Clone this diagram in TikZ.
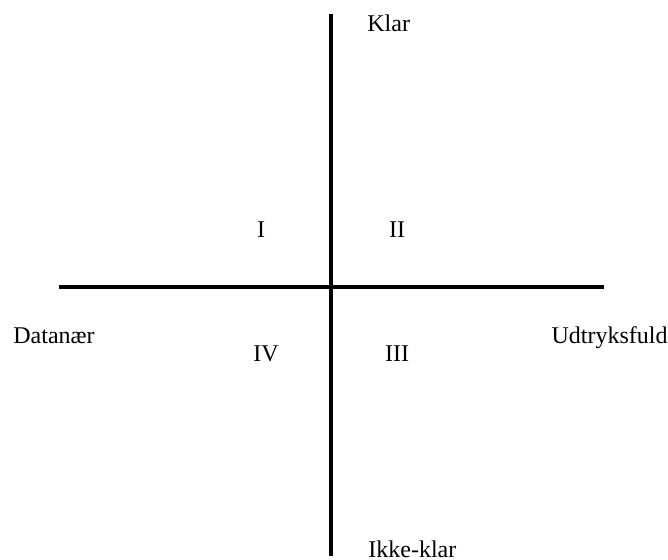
\documentclass[tikz,border=0pt]{standalone}
\usepackage{fontspec}
\setmainfont{Liberation Serif}
\usetikzlibrary{positioning}

\begin{document}
\begin{tikzpicture}[
  x=0.5pt, y=-0.5pt,
  axis/.style={line width=2pt},
  lbl/.style={inner sep=0pt, font=\fontsize{12}{14}\selectfont},
  quad/.style={lbl, anchor=base}]
\useasboundingbox (0,0) rectangle (668,560);
% axes
\coordinate (top) at (331,14);
\coordinate (bottom) at (331,556);
\coordinate (left) at (59,287);
\coordinate (right) at (604,287);
\draw[axis] (top) -- (bottom);
\draw[axis] (left) -- (right);
% axis ends
\node[lbl, anchor=base west] (klar) at (367,32) {Klar};
\node[lbl, anchor=base west] (ikke) at (368,557) {Ikke-klar};
\node[lbl, anchor=base west] (data) at (13,344) {Datanær};
\node[lbl, anchor=base east] (udtryk) at (668,344) {Udtryksfuld};
% quadrants
\node[quad] (q1) at (261,238) {I};
\node[quad] (q2) at (397,238) {II};
\node[quad] (q3) at (397,362) {III};
\node[quad] (q4) at (266,362) {IV};
\end{tikzpicture}
\end{document}
